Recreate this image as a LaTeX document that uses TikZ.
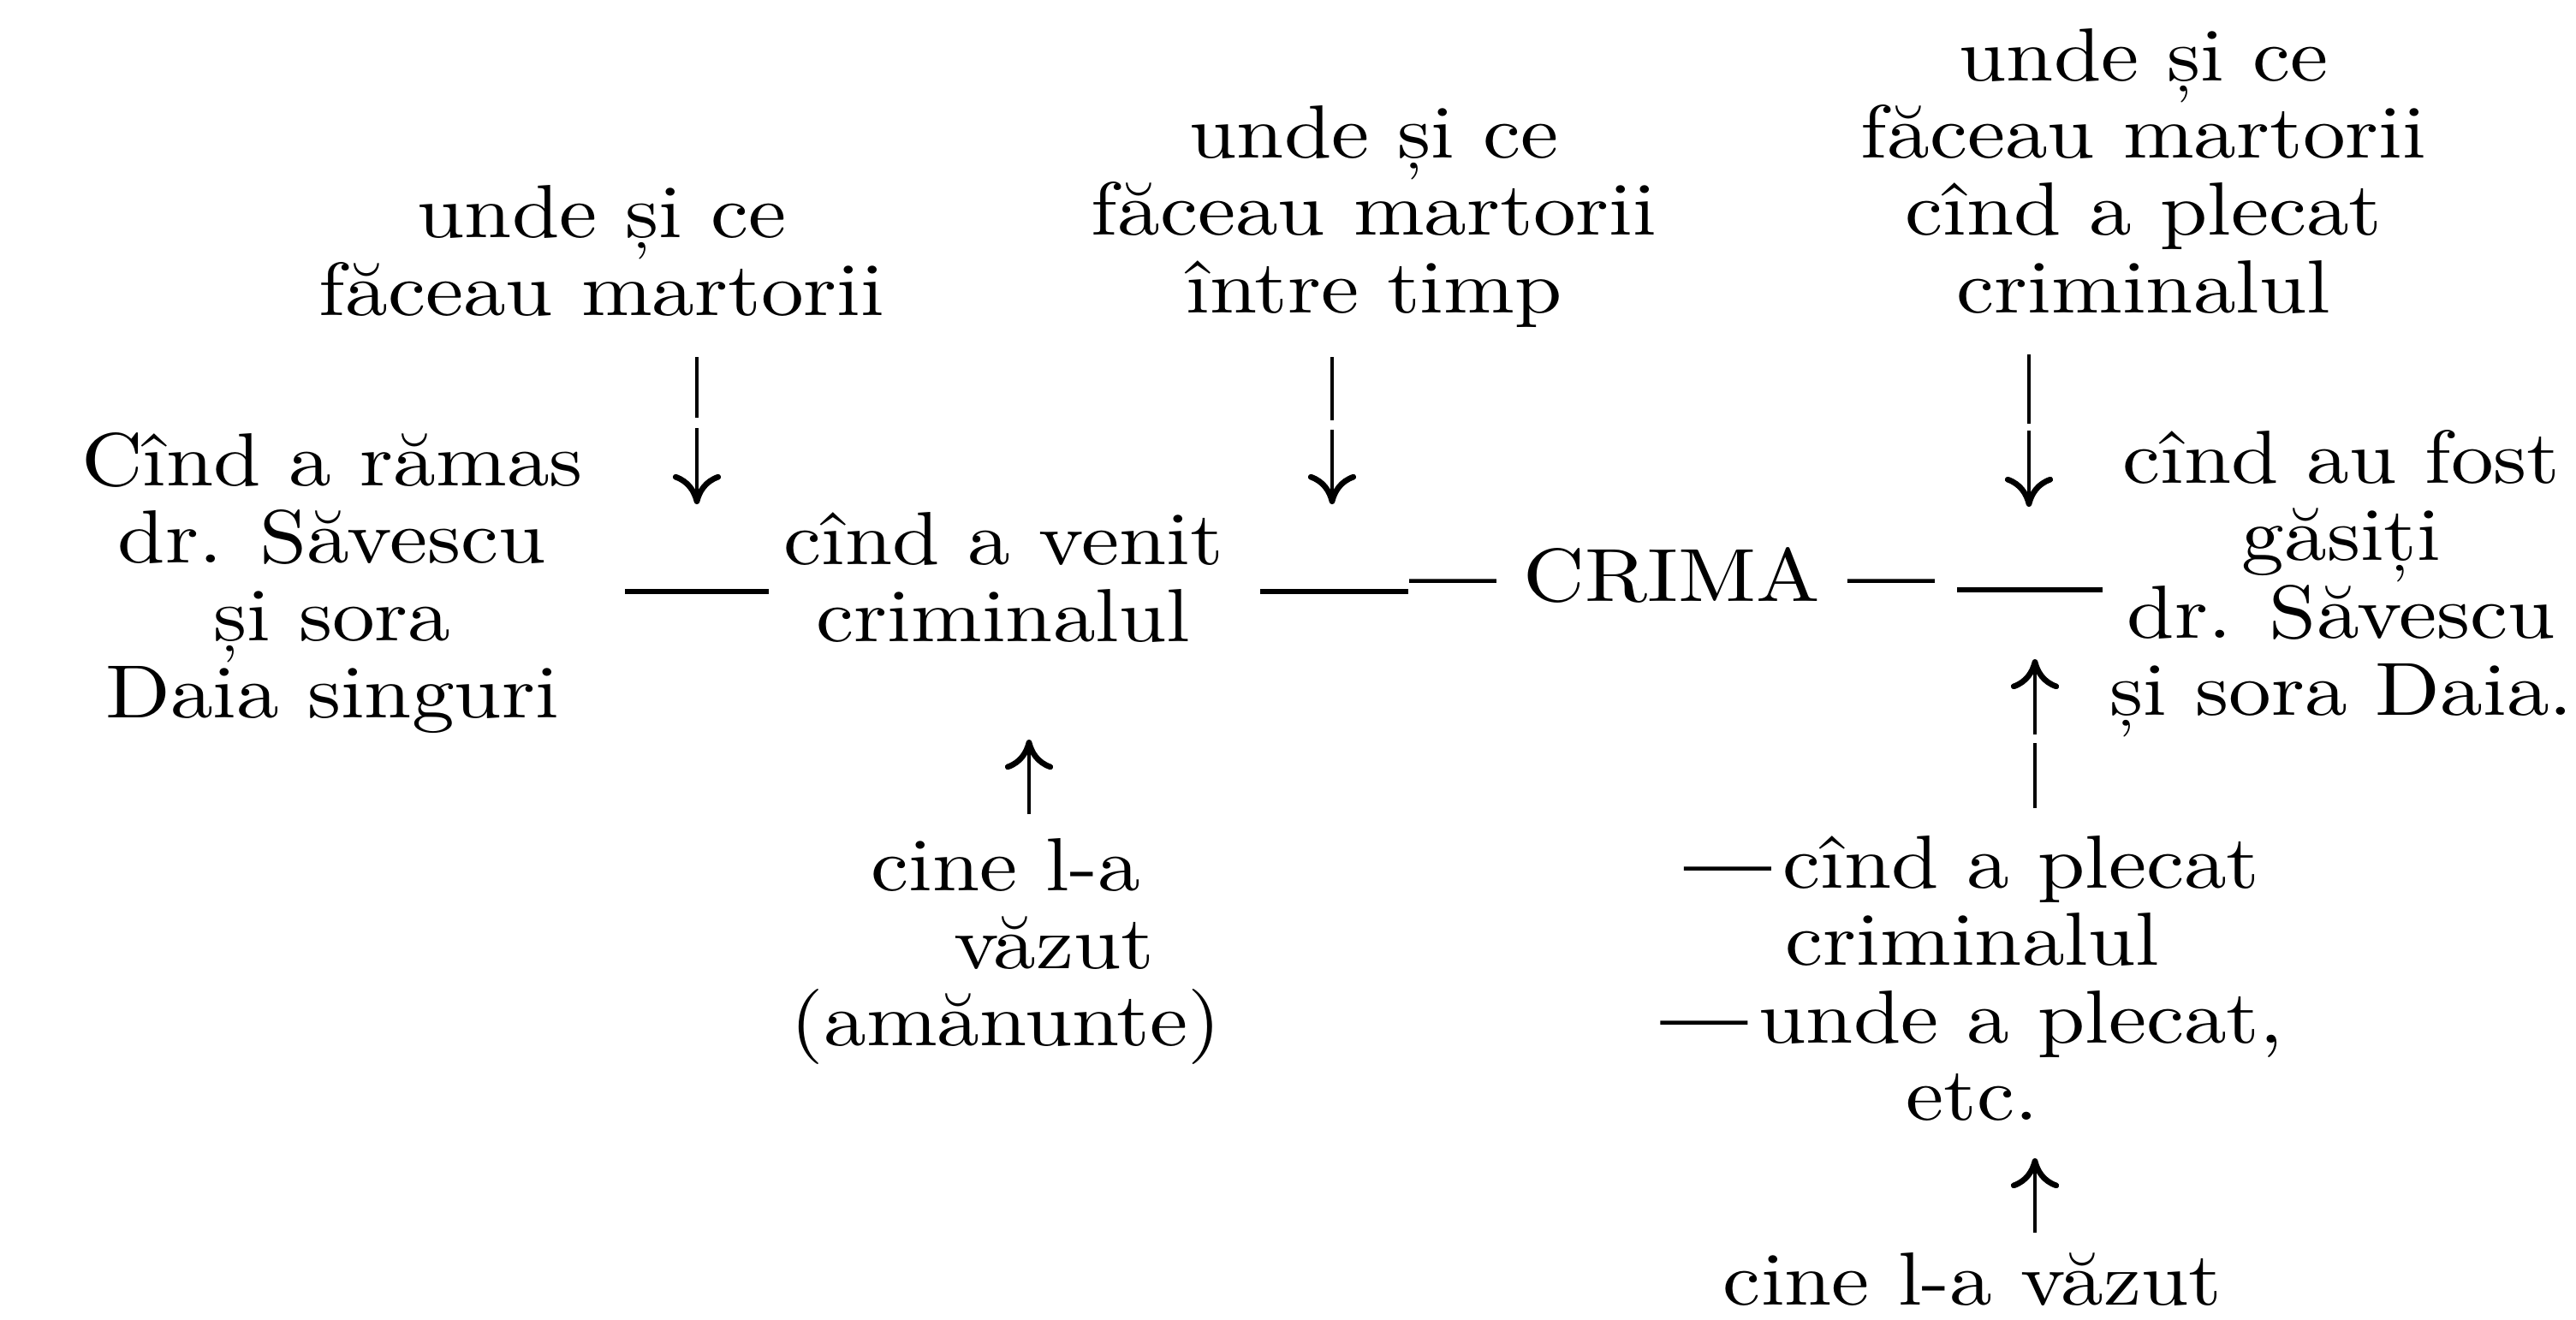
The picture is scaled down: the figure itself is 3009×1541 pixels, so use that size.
\documentclass[tikz,border=0pt]{standalone}
\usepackage{fontspec}
\setmainfont{lmroman10-regular.otf}[FakeStretch=1.13]
\newfontface\heavydash{lmroman10-regular.otf}[FakeStretch=1.13, FakeBold=3]
\newcommand{\hd}{{\heavydash —}}
\usetikzlibrary{arrows.meta}
\tikzset{
  txt/.style={inner sep=0pt, align=center, anchor=base, font=\fontsize{25}{25.6}\selectfont},
  rulebar/.style={line width=1.5pt},
  shaft/.style={line width=1pt},
  arr/.style={line width=1pt, -{Computer Modern Rightarrow[length=10pt,width=16pt,line width=1.9pt]}}
}
\begin{document}
\begin{tikzpicture}[x=0.01cm,y=-0.01cm]
\useasboundingbox (0,0) rectangle (3009,1541);
% text blocks (anchored at the baseline of their last line)
\node[txt] (tl) at (703,368) {unde și ce\\făceau martorii};
\node[txt] (tm) at (1605,365) {unde și ce\\făceau martorii\\între timp};
\node[txt] (tr) at (2504,365) {unde și ce\\făceau martorii\\cînd a plecat\\criminalul};
\node[txt] (L) at (388,838) {Cînd a rămas\\dr. Săvescu\\și sora\\Daia singuri};
\node[txt] (V) at (1172,749) {cînd a venit\\criminalul};
\node[txt] (C) at (1953,702) {\hd{} CRIMA \hd};
\node[txt] (R) at (2735,835) {cînd au fost\\găsiți\\dr. Săvescu\\și sora Daia.};
\node[txt] (BL) at (1175,1221) {cine l-a\\\hspace*{32pt}văzut\\(amănunte)};
\node[txt] (BR) at (2304,1308) {\hd\thinspace cînd a plecat\\criminalul\\\hd\thinspace unde a plecat,\\etc.};
\node[txt, text depth=0pt] (BR2) at (2304,1524) {cine l-a văzut};
% horizontal rules
\coordinate (h1a) at (730,691);  \coordinate (h1b) at (898,691);
\coordinate (h2a) at (1472,691); \coordinate (h2b) at (1645,691);
\coordinate (h3a) at (2286,689); \coordinate (h3b) at (2456,689);
\draw[rulebar] (h1a) -- (h1b);
\draw[rulebar] (h2a) -- (h2b);
\draw[rulebar] (h3a) -- (h3b);
% down arrows
\coordinate (a1t) at (814,417); \coordinate (a1m) at (814,488); \coordinate (a1n) at (814,500); \coordinate (a1e) at (814,589);
\coordinate (a2t) at (1556,417); \coordinate (a2m) at (1556,491); \coordinate (a2n) at (1556,502); \coordinate (a2e) at (1556,589);
\coordinate (a3t) at (2370,414); \coordinate (a3m) at (2370,495); \coordinate (a3n) at (2370,503); \coordinate (a3e) at (2370,592);
\draw[shaft] (a1t) -- (a1m); \draw[arr] (a1n) -- (a1e);
\draw[shaft] (a2t) -- (a2m); \draw[arr] (a2n) -- (a2e);
\draw[shaft] (a3t) -- (a3m); \draw[arr] (a3n) -- (a3e);
% up arrows
\coordinate (a4b) at (1202,951); \coordinate (a4e) at (1202,864);
\draw[arr] (a4b) -- (a4e);
\coordinate (a5b) at (2377,944); \coordinate (a5m) at (2377,868); \coordinate (a5n) at (2377,858); \coordinate (a5e) at (2377,770);
\draw[shaft] (a5b) -- (a5m); \draw[arr] (a5n) -- (a5e);
\coordinate (a6b) at (2377,1440); \coordinate (a6e) at (2377,1353);
\draw[arr] (a6b) -- (a6e);
\end{tikzpicture}
\end{document}
